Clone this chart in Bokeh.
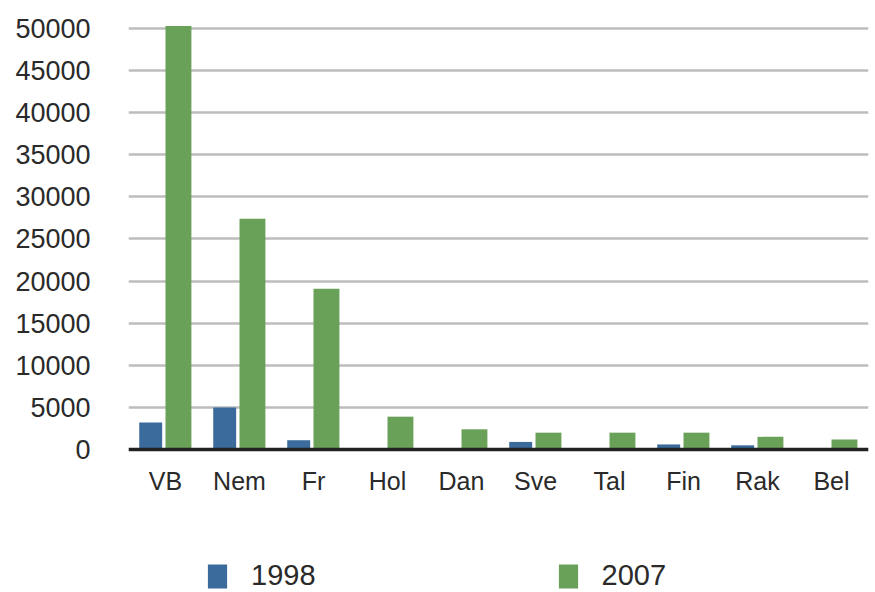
from bokeh.plotting import figure
from bokeh.models import (ColumnDataSource, Legend, LegendItem, FactorRange, Range1d,
                          FixedTicker, Span)
from bokeh.transform import dodge
from bokeh.core.properties import value
from bokeh.embed import file_html
from bokeh.resources import INLINE

countries = ["VB", "Nem", "Fr", "Hol", "Dan", "Sve", "Tal", "Fin", "Rak", "Bel"]
y1998 = [3200, 5000, 1100, 0, 0, 900, 0, 600, 500, 0]
y2007 = [50300, 27400, 19100, 3900, 2400, 2000, 2000, 2000, 1500, 1200]
series_names = ["1998", "2007"]
colors = ["#3a6b9c", "#6aa158"]
y_ticks = [0, 5000, 10000, 15000, 20000, 25000, 30000, 35000, 40000, 45000, 50000]

src = ColumnDataSource(dict(c=countries, a=y1998, b=y2007, base=[0] * len(countries)))

FONT = "Liberation Sans"

p = figure(x_range=FactorRange(*countries), y_range=Range1d(-16983, 50712),
           width=875, height=592, output_backend="svg", toolbar_location=None,
           x_axis_location=None,
           min_border_left=128, min_border_right=7, min_border_top=22, min_border_bottom=0)
p.outline_line_color = None

r1 = p.vbar(x=dodge("c", -0.2, range=p.x_range), top="a", width=0.31, source=src,
            fill_color=colors[0], line_color=None)
r2 = p.vbar(x=dodge("c", 0.175, range=p.x_range), top="b", width=0.35, source=src,
            fill_color=colors[1], line_color=None)

p.x_range.range_padding = 0
p.xgrid.grid_line_color = None
p.ygrid.grid_line_color = "#bdbdbd"
p.ygrid.grid_line_width = 2.5
p.yaxis.ticker = FixedTicker(ticks=y_ticks)

p.yaxis.axis_line_color = None
p.yaxis.major_tick_line_color = None
p.yaxis.minor_tick_line_color = None
p.yaxis.major_tick_out = 0
p.yaxis.major_label_standoff = 38
p.yaxis.major_label_text_font = FONT
p.yaxis.major_label_text_font_size = "27px"
p.yaxis.major_label_text_color = "#2a2a2a"

# category axis line at zero
p.add_layout(Span(location=0, dimension="width", line_color="#222222", line_width=3.5))

# category labels
p.text(x="c", y="base", text="c", source=src, text_align="center", text_baseline="top",
       y_offset=17, text_font=value(FONT), text_font_size="25px", text_color="#2a2a2a")

legend = Legend(items=[LegendItem(label=series_names[0], renderers=[r1]),
                       LegendItem(label=series_names[1], renderers=[r2])],
                location=(77, 0), orientation="horizontal",
                glyph_width=24, glyph_height=30, label_standoff=22, spacing=240,
                padding=0, margin=0, border_line_color=None, background_fill_alpha=0,
                label_text_font=FONT, label_text_font_size="29px", label_text_color="#2a2a2a")
p.add_layout(legend)

open("out.html", "w").write(file_html(p, INLINE))
